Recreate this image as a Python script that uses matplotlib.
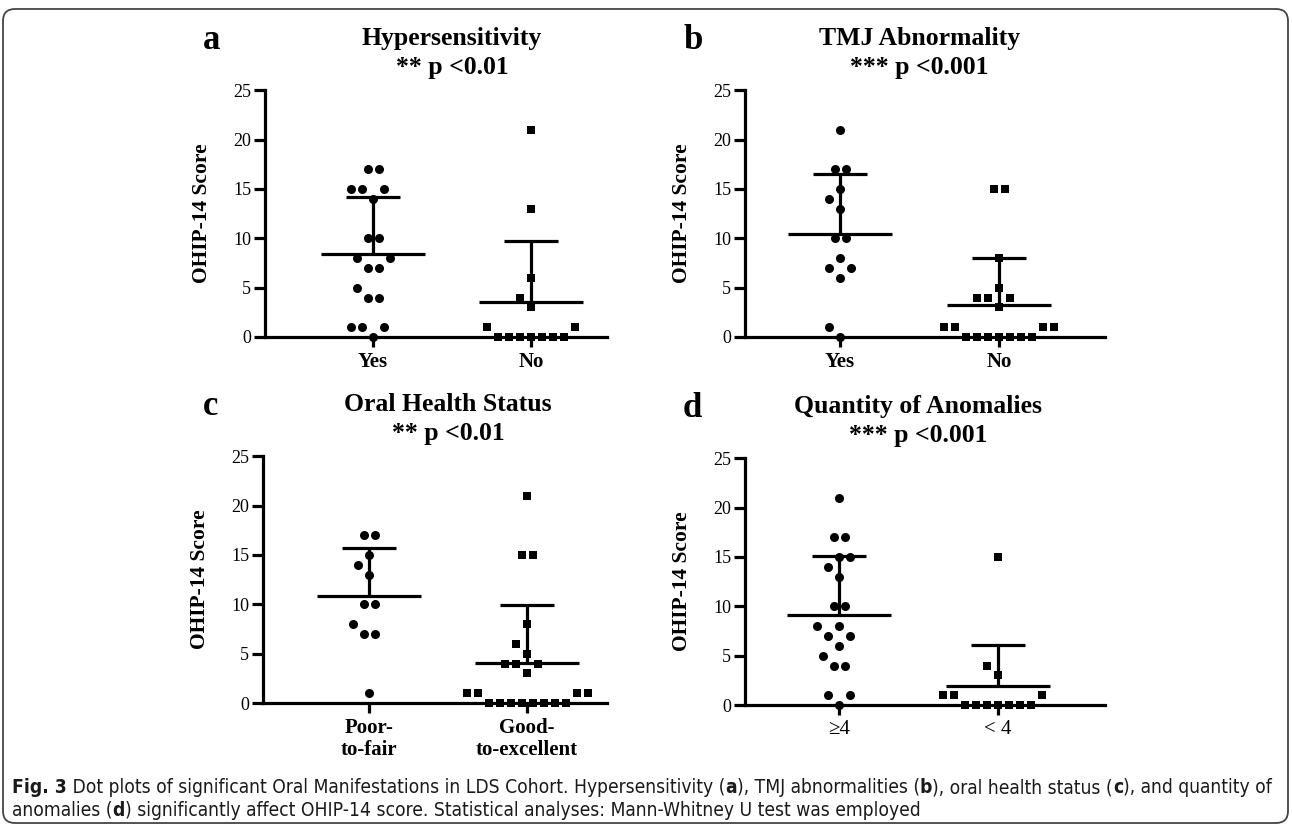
import numpy as np
import matplotlib
matplotlib.use('Agg')
import matplotlib.pyplot as plt
from matplotlib.patches import FancyBboxPatch
from matplotlib.transforms import IdentityTransform

plt.rcParams['font.family'] = ['Liberation Serif', 'DejaVu Serif']

# OHIP-14 scores
hyper_yes = [17, 17, 15, 15, 15, 14, 10, 10, 8, 8, 7, 7, 5, 4, 4, 1, 1, 1, 0]
hyper_no = [21, 13, 6, 4, 3, 1, 1, 0, 0, 0, 0, 0, 0, 0]

tmj_yes = [21, 17, 17, 15, 14, 13, 10, 10, 8, 7, 7, 6, 1, 0]
tmj_no = [15, 15, 8, 5, 4, 4, 4, 3, 1, 1, 1, 1, 0, 0, 0, 0, 0, 0, 0]

poor_fair = [17, 17, 15, 14, 13, 10, 10, 8, 7, 7, 1]
good_exc = [21, 15, 15, 8, 6, 5, 4, 4, 4, 3, 1, 1, 1, 1, 0, 0, 0, 0, 0, 0, 0, 0]

anom_ge4 = [21, 17, 17, 15, 15, 14, 13, 10, 10, 8, 8, 7, 7, 6, 5, 4, 4, 1, 1, 0]
anom_lt4 = [15, 4, 3, 1, 1, 1, 0, 0, 0, 0, 0, 0, 0]

letters = ['a', 'b', 'c', 'd']
titles = ['Hypersensitivity', 'TMJ Abnormality', 'Oral Health Status', 'Quantity of Anomalies']
pvals = ['** p <0.01', '*** p <0.001', '** p <0.01', '*** p <0.001']
groups = [(hyper_yes, hyper_no), (tmj_yes, tmj_no), (poor_fair, good_exc), (anom_ge4, anom_lt4)]
cat_labels = [['Yes', 'No'], ['Yes', 'No'], ['Poor-\nto-fair', 'Good-\nto-excellent'], ['\u22654', '< 4']]

W, H = 1292, 833
fig = plt.figure(figsize=(W / 100, H / 100), dpi=100)

# pixel layout: left, right, bottom(y=0), first cat x, second cat x
layout = [(265, 607, 337, 373, 531),
          (745, 1105, 337, 840, 999),
          (263, 607, 703, 369, 527),
          (745, 1105, 705, 839, 998)]
px_per_unit = 9.87


def swarm_offsets(values, row_gap=1.1):
    # simple GraphPad-like scatter: symmetric rows, pushed sideways when a neighbour row clashes
    vals = np.array(values, float)
    offs = np.zeros(len(vals))
    placed = []
    cands = [0.0]
    for k in range(1, 40):
        cands += [-k * 0.5, k * 0.5]

    def clash(o, v):
        for po, pv in placed:
            if abs(pv - v) < row_gap and abs(po - o) < 0.999:
                return True
        return False

    for v in np.unique(vals):
        idx = np.where(vals == v)[0]
        n = len(idx)
        pattern = [i - (n - 1) / 2 for i in range(n)]
        if not any(clash(o, v) for o in pattern):
            for i, o in zip(idx, pattern):
                offs[i] = o
                placed.append((o, v))
        else:
            for i in idx:
                for o in cands:
                    if not clash(o, v):
                        offs[i] = o
                        placed.append((o, v))
                        break
    return offs


for k in range(4):
    left, right, base, c0, c1 = layout[k]
    top = base - 25 * px_per_unit
    ax = fig.add_axes([left / W, 1 - base / H, (right - left) / W, (base - top) / H])
    sp = c1 - c0
    ax.set_xlim((left - c0) / sp, (right - c0) / sp)
    ax.set_ylim(0, 25)
    step = 11.0 / sp

    for j, (vals, mk, ms) in enumerate(zip(groups[k], ['o', 's'], [6.5, 5.8])):
        vals = np.array(vals, float)
        m = vals.mean()
        sd = vals.std(ddof=1)
        ax.plot([j - 0.33, j + 0.33], [m, m], color='black', lw=2.3, solid_capstyle='butt', clip_on=False)
        ax.plot([j, j], [m, m + sd], color='black', lw=2.3, solid_capstyle='butt', clip_on=False)
        ax.plot([j - 0.172, j + 0.172], [m + sd, m + sd], color='black', lw=2.3, solid_capstyle='butt', clip_on=False)
        xs = j + swarm_offsets(vals) * step
        ax.plot(xs, vals, mk, color='black', ms=ms, mew=0, clip_on=False, zorder=4)

    for s in ['top', 'right']:
        ax.spines[s].set_visible(False)
    for s in ['left', 'bottom']:
        ax.spines[s].set_linewidth(2.3)
    ax.set_yticks([0, 5, 10, 15, 20, 25])
    ax.set_xticks([0, 1])
    ax.set_xticklabels(cat_labels[k], fontsize=15, fontweight='bold' if k < 3 else 'normal',
                       linespacing=1.1)
    ax.tick_params(axis='y', length=8, width=2.3, labelsize=13, pad=2)
    ax.tick_params(axis='x', length=7, width=2.3, pad=4)
    ax.set_ylabel('OHIP-14 Score', fontsize=15.5, fontweight='bold')
    ax.yaxis.set_label_coords(-53 / (right - left), 0.5)

    # panel titles
    cx = (c0 + c1) / 2
    fig.text(cx / W, 1 - (base - 292) / H, titles[k], ha='center', va='baseline',
             fontsize=18.5, fontweight='bold')
    fig.text(cx / W, 1 - (base - 263) / H, pvals[k], ha='center', va='baseline',
             fontsize=18.5, fontweight='bold')
    lx = 203 if k % 2 == 0 else 683
    fig.text(lx / W, 1 - (base - 288) / H, letters[k], ha='left', va='baseline',
             fontsize=25, fontweight='bold')

# caption with bold pieces
cap_font = ['DejaVu Sans']
renderer = fig.canvas.get_renderer()


def rich_line(x, y, parts, size=13.8):
    for txt, bold in parts:
        t = fig.text(x, y, txt, fontsize=size, fontweight='bold' if bold else 'normal',
                     family=cap_font, fontstretch='condensed', ha='left', va='baseline',
                     color='#1a1a1a')
        x += t.get_window_extent(renderer).width / fig.bbox.width


line1 = [('Fig. 3', True), (' Dot plots of significant Oral Manifestations in LDS Cohort. Hypersensitivity (', False),
         ('a', True), ('), TMJ abnormalities (', False), ('b', True), ('), oral health status (', False),
         ('c', True), ('), and quantity of', False)]
line2 = [('anomalies (', False), ('d', True),
         (') significantly affect OHIP-14 score. Statistical analyses: Mann-Whitney U test was employed', False)]
rich_line(12 / W, 1 - 793 / H, line1)
rich_line(12 / W, 1 - 816 / H, line2)

frame = FancyBboxPatch((3, 10), 1285, 814, boxstyle='round,pad=0,rounding_size=12',
                       transform=IdentityTransform(), fill=False, lw=1.3, ec='#444444')
fig.patches.append(frame)

fig.savefig('out.png', dpi=100)
